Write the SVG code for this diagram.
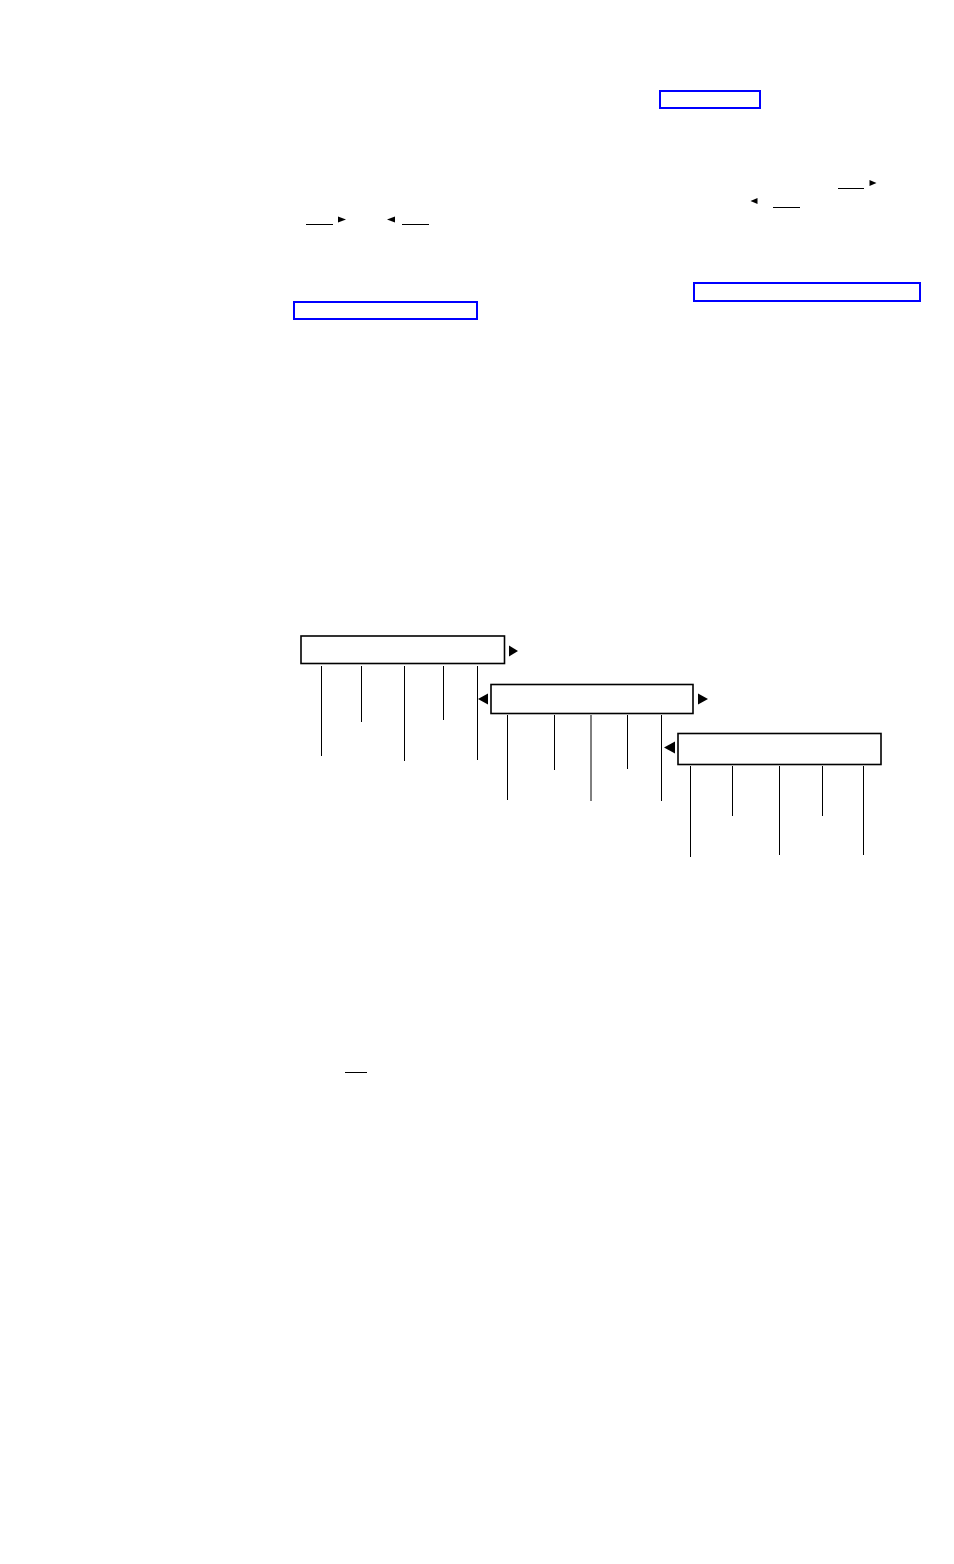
<svg xmlns="http://www.w3.org/2000/svg" width="954" height="1564" viewBox="0 0 954 1564">
<style>
.link{fill:none;stroke:#0000ff;stroke-width:2}
.box{fill:#ffffff;stroke:#000000;stroke-width:1.6}
.tick{stroke:#000000;stroke-width:1;fill:none}
.ul{stroke:#000000;stroke-width:1;fill:none}
.tri{fill:#000000}
</style>
<rect width="954" height="1564" fill="#ffffff"/>
<g id="links">
<rect class="link" x="660" y="91" width="100" height="17"/>
<rect class="link" x="694" y="283" width="226" height="18"/>
<rect class="link" x="294" y="302" width="183" height="17"/>
</g>
<g id="inline-arrows">
<line class="ul" x1="838" y1="188.5" x2="864" y2="188.5"/>
<polygon class="tri" points="869.5,180 876.5,183 869.5,186"/>
<polygon class="tri" points="757.5,198 750.5,201 757.5,204"/>
<line class="ul" x1="773" y1="207.5" x2="800" y2="207.5"/>
<line class="ul" x1="306" y1="224.5" x2="333" y2="224.5"/>
<polygon class="tri" points="338,216.5 346,219.5 338,222.5"/>
<polygon class="tri" points="395,216.5 387,219.5 395,222.5"/>
<line class="ul" x1="402" y1="224.5" x2="429" y2="224.5"/>
<line class="ul" x1="345" y1="1072.5" x2="367" y2="1072.5"/>
</g>
<g id="connectors">
<line class="tick" x1="321.5" y1="666" x2="321.5" y2="756"/>
<line class="tick" x1="361.5" y1="666" x2="361.5" y2="722"/>
<line class="tick" x1="404.5" y1="666" x2="404.5" y2="761"/>
<line class="tick" x1="443.5" y1="666" x2="443.5" y2="720"/>
<line class="tick" x1="477.5" y1="666" x2="477.5" y2="760"/>
<line class="tick" x1="507.5" y1="715" x2="507.5" y2="800"/>
<line class="tick" x1="554.5" y1="715" x2="554.5" y2="770"/>
<line class="tick" x1="591" y1="715" x2="591" y2="801" stroke-width="1.6"/>
<line class="tick" x1="627.5" y1="715" x2="627.5" y2="769"/>
<line class="tick" x1="661.5" y1="715" x2="661.5" y2="801"/>
<line class="tick" x1="690.5" y1="766" x2="690.5" y2="857"/>
<line class="tick" x1="732.5" y1="766" x2="732.5" y2="816"/>
<line class="tick" x1="779.5" y1="766" x2="779.5" y2="855"/>
<line class="tick" x1="822.5" y1="766" x2="822.5" y2="816"/>
<line class="tick" x1="863.5" y1="766" x2="863.5" y2="855"/>
</g>
<g id="node1">
<rect class="box" x="301" y="636" width="203.5" height="27.5"/>
<polygon class="tri" points="509,645.5 518,651 509,656.5"/>
</g>
<g id="node2">
<rect class="box" x="491" y="684.5" width="202" height="29"/>
<polygon class="tri" points="488,693.5 478,699 488,704.5"/>
<polygon class="tri" points="698,693.5 708,699 698,704.5"/>
</g>
<g id="node3">
<rect class="box" x="678" y="733.5" width="203" height="31"/>
<polygon class="tri" points="675,741.5 664,747.5 675,753.5"/>
</g>
</svg>
